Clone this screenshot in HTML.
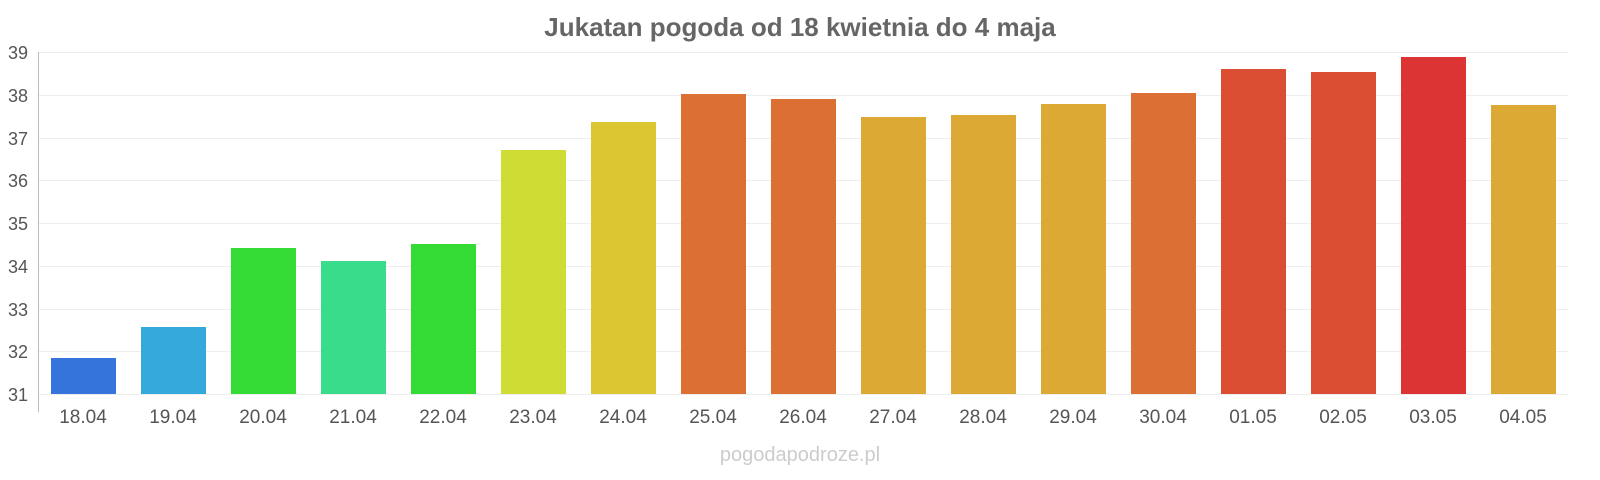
<!DOCTYPE html>
<html><head><meta charset="utf-8"><style>body{margin:0;background:#fff}svg{display:block}</style></head><body>
<svg width="1600" height="480" xmlns="http://www.w3.org/2000/svg" font-family="Liberation Sans, sans-serif">
<text x="800" y="36" text-anchor="middle" font-size="26" font-weight="bold" fill="#666">Jukatan pogoda od 18 kwietnia do 4 maja</text>
<g stroke="#eee" stroke-width="1">
<line x1="38" x2="1568" y1="52.5" y2="52.5"/><line x1="38" x2="1568" y1="95.5" y2="95.5"/><line x1="38" x2="1568" y1="138.5" y2="138.5"/><line x1="38" x2="1568" y1="180.5" y2="180.5"/><line x1="38" x2="1568" y1="223.5" y2="223.5"/><line x1="38" x2="1568" y1="266.5" y2="266.5"/><line x1="38" x2="1568" y1="309.5" y2="309.5"/><line x1="38" x2="1568" y1="351.5" y2="351.5"/><line x1="38" x2="1568" y1="394.5" y2="394.5"/>
</g>
<line x1="38.5" x2="38.5" y1="52" y2="412" stroke="#bbb"/>
<g font-size="18" fill="#555" text-anchor="start">
<text x="8" y="59">39</text><text x="8" y="102">38</text><text x="8" y="145">37</text><text x="8" y="187">36</text><text x="8" y="230">35</text><text x="8" y="273">34</text><text x="8" y="316">33</text><text x="8" y="358">32</text><text x="8" y="401">31</text>
</g>
<g>
<rect x="51" y="358" width="65" height="36" fill="#3474db"/>
<rect x="141" y="327" width="65" height="67" fill="#35a8dc"/>
<rect x="231" y="248" width="65" height="146" fill="#35db35"/>
<rect x="321" y="261" width="65" height="133" fill="#38dc8a"/>
<rect x="411" y="244" width="65" height="150" fill="#35db35"/>
<rect x="501" y="150" width="65" height="244" fill="#cfdc33"/>
<rect x="591" y="122" width="65" height="272" fill="#dcc733"/>
<rect x="681" y="94" width="65" height="300" fill="#dc7034"/>
<rect x="771" y="99" width="65" height="295" fill="#dc7034"/>
<rect x="861" y="117" width="65" height="277" fill="#dca934"/>
<rect x="951" y="115" width="65" height="279" fill="#dca934"/>
<rect x="1041" y="104" width="65" height="290" fill="#dca934"/>
<rect x="1131" y="93" width="65" height="301" fill="#dc7034"/>
<rect x="1221" y="69" width="65" height="325" fill="#dc4e34"/>
<rect x="1311" y="72" width="65" height="322" fill="#dc4e34"/>
<rect x="1401" y="57" width="65" height="337" fill="#dc3434"/>
<rect x="1491" y="105" width="65" height="289" fill="#dca934"/>
</g>
<g font-size="19" fill="#555" text-anchor="middle">
<text x="83" y="423">18.04</text><text x="173" y="423">19.04</text><text x="263" y="423">20.04</text><text x="353" y="423">21.04</text><text x="443" y="423">22.04</text><text x="533" y="423">23.04</text><text x="623" y="423">24.04</text><text x="713" y="423">25.04</text><text x="803" y="423">26.04</text><text x="893" y="423">27.04</text><text x="983" y="423">28.04</text><text x="1073" y="423">29.04</text><text x="1163" y="423">30.04</text><text x="1253" y="423">01.05</text><text x="1343" y="423">02.05</text><text x="1433" y="423">03.05</text><text x="1523" y="423">04.05</text>
</g>
<text x="800" y="461" text-anchor="middle" font-size="20" fill="#ccc">pogodapodroze.pl</text>
</svg>
</body></html>
